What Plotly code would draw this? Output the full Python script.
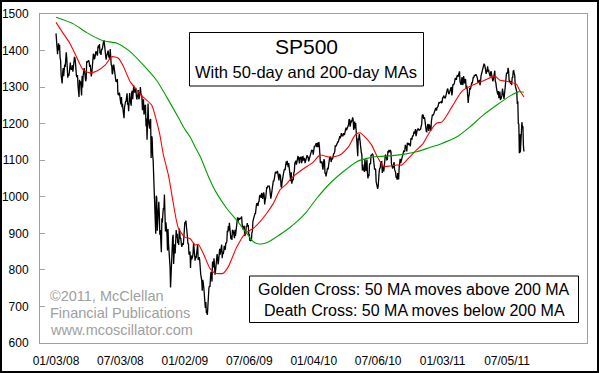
import plotly.graph_objects as go

# ---------------- data: S&P 500 daily closes (trading days from 01/03/08) ----------------
close_2008 = [
    1447,1412,1416,1390,1409,1420,1401,1416,1380,1373,1333,1325,1310,1338,1352,1330,1353,1362,1355,1378,
    1395,1380,1336,1326,1336,1331,1339,1348,1367,1348,1350,1348,1360,1342,1353,1371,1381,1380,1367,1331,
    1331,1327,1333,1304,1294,1273,1320,1308,1316,1289,1277,1330,1299,1330,1350,1352,1342,1325,1316,1323,
    1371,1368,1370,1371,1373,1366,1355,1361,1333,1329,1338,1365,1366,1391,1388,1376,1380,1389,1398,1396,1391,1386,
    1409,1414,1407,1418,1392,1398,1388,1404,1403,1408,1423,1425,1426,1413,1390,1394,1375,1385,1390,1398,1400,
    1385,1378,1377,1404,1361,1361,1358,1335,1339,1360,1360,1350,1338,1342,1317,1318,1314,1322,1283,1278,1280,
    1285,1262,1262,1253,1273,1245,1254,1239,1229,1215,1245,1260,1260,1261,1278,1283,1252,1257,1234,1264,1284,1267,
    1260,1249,1285,1290,1267,1296,1305,1289,1285,1293,1298,1278,1266,1275,1277,1292,1267,1271,1281,1300,1283,
    1277,1274,1237,1242,1267,1225,1232,1249,1252,1193,1214,1156,1206,1255,1207,1189,1186,1210,1213,1106,1166,
    1161,1114,1099,1056,996,985,910,899,1003,998,907,946,940,986,955,896,909,877,848,941,930,954,969,
    966,1006,953,905,930,920,898,853,912,873,851,860,807,752,800,852,858,888,896,
    816,848,870,845,876,909,888,899,873,879,868,913,904,885,887,871,863,869,873,869,890,903,
]
close_2009 = [
    931,927,935,907,910,890,871,872,842,844,850,805,840,828,832,836,845,874,845,826,
    825,838,832,845,869,870,827,833,835,826,789,788,779,770,743,773,764,752,735,
    700,696,712,682,683,677,720,721,750,756,753,778,795,785,768,823,806,813,832,816,787,798,
    811,834,843,835,815,825,856,858,842,852,866,869,832,850,843,851,866,857,855,873,873,
    877,907,903,920,907,929,909,908,884,893,882,909,908,903,888,887,910,893,906,919,
    942,944,931,942,940,939,942,939,944,946,923,911,910,918,921,893,895,900,920,918,928,919,
    923,896,898,881,880,882,879,901,906,933,941,940,951,954,954,976,979,982,979,975,986,987,
    1002,1005,1002,997,1010,1007,994,1005,1012,1005,979,990,996,1007,1026,1025,1029,1029,1031,1029,1021,
    998,995,1003,1016,1025,1034,1044,1042,1049,1053,1068,1066,1068,1064,1071,1061,1050,1045,1063,1060,1057,
    1029,1025,1040,1054,1057,1065,1072,1076,1073,1092,1096,1087,1098,1091,1081,1092,1079,1066,1063,1043,1067,1036,
    1042,1046,1047,1066,1069,1093,1094,1099,1088,1094,1110,1110,1109,1094,1091,1106,1105,1110,1092,1096,
    1109,1110,1099,1106,1104,1092,1096,1102,1106,1114,1108,1110,1097,1102,1114,1118,1120,1127,1128,1126,1126,1115,
]
close_2010 = [
    1133,1137,1137,1142,1145,1147,1136,1146,1148,1136,1150,1138,1116,1092,1097,1092,1097,1084,1074,
    1090,1103,1097,1063,1066,1056,1070,1068,1079,1075,1094,1100,1107,1109,1108,1095,1105,1103,1105,
    1115,1118,1119,1123,1139,1138,1140,1146,1150,1150,1150,1159,1166,1166,1160,1166,1174,1167,1166,1167,1173,1173,1169,
    1178,1187,1189,1182,1187,1194,1197,1197,1211,1212,1192,1197,1207,1206,1209,1217,1212,1183,1191,1206,1187,
    1202,1173,1166,1128,1111,1160,1156,1172,1158,1136,1136,1121,1116,1072,1088,1074,1074,1068,1103,1089,
    1070,1098,1102,1065,1050,1062,1056,1087,1092,1089,1115,1114,1116,1117,1114,1096,1092,1074,1077,1074,1041,1031,
    1028,1022,1029,1061,1070,1078,1079,1095,1095,1096,1065,1072,1083,1069,1094,1102,1115,1113,1106,1101,1102,
    1125,1121,1128,1126,1122,1128,1122,1090,1083,1079,1080,1093,1095,1075,1071,1067,1052,1055,1047,1065,1049,1049,
    1080,1090,1104,1092,1099,1104,1110,1121,1121,1125,1124,1125,1142,1139,1134,1124,1148,1142,1147,1145,1141,
    1146,1138,1160,1160,1158,1166,1166,1170,1178,1173,1177,1185,1166,1178,1181,1183,1186,1185,1182,1183,1183,
    1185,1193,1198,1221,1225,1223,1213,1218,1214,1199,1198,1179,1178,1197,1199,1197,1180,1198,1189,1188,1181,
    1206,1221,1225,1223,1224,1228,1234,1240,1241,1242,1236,1243,1244,1247,1254,1258,1257,1258,1259,1260,1257,1258,
]
close_2011 = [
    1272,1270,1277,1274,1271,1269,1274,1285,1283,1293,1296,1281,1281,1283,1291,1292,1297,1300,1277,1286,
    1308,1305,1308,1311,1320,1325,1321,1321,1329,1333,1328,1337,1340,1343,1315,1307,1306,1320,1327,
    1306,1309,1330,1321,1310,1322,1320,1295,1304,1296,1281,1257,1274,1279,1298,1293,1298,1309,1313,1310,1319,1328,1326,
    1332,1332,1332,1335,1333,1329,1324,1314,1315,1314,1320,1305,1312,1330,1337,1335,1347,1356,1360,1364,
    1361,1357,1348,1336,1340,1346,1357,1342,1348,1338,1330,1329,1341,1343,1333,1317,1316,1320,1326,1331,1345,
    1315,1313,1300,1286,1284,1280,1289,1271,1271,1288,1265,1268,1272,1278,1296,1287,1283,1268,1281,1297,1308,1321,
    1340,1337,1339,1353,1344,1319,1314,1317,1309,1316,1305,1327,1325,1344,1345,1337,1332,1304,1300,1292,
    1287,1254,1261,1200,1199,1119,1172,1121,1172,1179,1204,1192,1193,1140,1124,
]

# 50-day moving average, x = trading-day number
ma50_day = [0,14,27,40,53,66,80,96,109,122,132,145,158,171,187,197,203,210,220,229,
            239,252,262,272,278,288,301,311,327,337,353,370,386,399,412,425,438,451,461,481,
            503,516,536,555,572,585,594,604,617,628,640,653,666,676,689,705,718,731,744,755,
            775,794,817,837,858,868,880,900,907,915]
ma50_val = [1477,1447,1420,1383,1347,1339,1344,1360,1383,1379,1356,1315,1292,1272,1251,1205,1170,1115,1058,985,
            915,889,886,868,870,845,804,791,791,809,861,900,914,932,955,982,1019,1035,1052,1074,
            1095,1114,1108,1114,1137,1169,1175,1164,1142,1110,1084,1084,1087,1087,1105,1128,1146,1178,1201,1205,
            1248,1289,1307,1318,1330,1319,1316,1308,1290,1273]

# 200-day moving average
ma200_day = [0,34,60,92,119,145,171,197,216,242,251,262,271,282,301,314,334,353,373,386,
             396,412,432,451,471,490,510,536,562,588,608,627,653,679,705,731,751,784,810,836,
             862,888,904,915]
ma200_val = [1491,1473,1449,1427,1420,1397,1360,1318,1274,1210,1187,1164,1139,1110,1046,1010,968,936,900,877,
             871,874,891,909,932,959,996,1037,1069,1096,1105,1110,1112,1116,1123,1135,1144,1164,1192,1224,
             1251,1276,1287,1286]

tick_days = [0,126,252,378,504,630,756,882]
tick_text = ["01/03/08","07/03/08","01/02/09","07/06/09","01/04/10","07/06/10","01/03/11","07/05/11"]
y_ticks = [600,700,800,900,1000,1100,1200,1300,1400,1500]

closes = close_2008 + close_2009 + close_2010 + close_2011
days = list(range(len(closes)))

# ---------------- figure ----------------
W, H = 599, 373
L, R, T, B = 40, 12, 14, 30
PW, PH = W - L - R, H - T - B

def px(xp):
    return (xp - L) / PW

def py(yp):
    return (H - B - yp) / PH

FONT = "Liberation Sans, Arial, sans-serif"

fig = go.Figure()
fig.add_trace(go.Scatter(x=days, y=closes, mode="lines",
                         line=dict(color="black", width=1.3), hoverinfo="skip"))
fig.add_trace(go.Scatter(x=ma50_day, y=ma50_val, mode="lines",
                         line=dict(color="#ff0000", width=1.1, shape="spline", smoothing=0.6),
                         hoverinfo="skip"))
fig.add_trace(go.Scatter(x=ma200_day, y=ma200_val, mode="lines",
                         line=dict(color="#00a000", width=1.1, shape="spline", smoothing=0.6),
                         hoverinfo="skip"))

shapes = [
    # outer frame
    dict(type="rect", xref="paper", yref="paper",
         x0=px(1), x1=px(598), y0=py(372), y1=py(1),
         line=dict(color="black", width=2), fillcolor="rgba(0,0,0,0)", layer="above"),
    # title box
    dict(type="rect", xref="paper", yref="paper",
         x0=px(189.5), x1=px(423.5), y0=py(86), y1=py(32.5),
         line=dict(color="black", width=1), fillcolor="white", layer="above"),
    # golden / death cross box
    dict(type="rect", xref="paper", yref="paper",
         x0=px(249.5), x1=px(578.5), y0=py(322.5), y1=py(276),
         line=dict(color="black", width=1), fillcolor="white", layer="above"),
]

ann = []
def text(s, xp, yp, size, color="black", xanchor="center"):
    ann.append(dict(text=s, xref="paper", yref="paper", x=px(xp), y=py(yp),
                    xanchor=xanchor, yanchor="middle", showarrow=False,
                    font=dict(family=FONT, size=size, color=color)))

text("SP500", 306, 47, 21)
text("With 50-day and 200-day MAs", 306, 72, 16.5)
text("Golden Cross: 50 MA moves above 200 MA", 414, 289, 16)
text("Death Cross: 50 MA moves below 200 MA", 414, 310, 16)
text("©2011, McClellan", 48, 296, 14.5, "#a0a0a0", "left")
text("Financial Publications", 48, 313, 14.5, "#a0a0a0", "left")
text("www.mcoscillator.com", 48, 330, 14.5, "#a0a0a0", "left")

fig.update_layout(
    width=W, height=H,
    margin=dict(l=L, r=R, t=T, b=B, pad=0, autoexpand=False),
    paper_bgcolor="white", plot_bgcolor="white",
    showlegend=False,
    shapes=shapes, annotations=ann,
    font=dict(family=FONT, color="black"),
)
fig.update_xaxes(range=[-31.3, 1038.3], tickmode="array", tickvals=tick_days, ticktext=tick_text,
                 showgrid=False, zeroline=False, ticks="", showline=True, mirror=True,
                 linecolor="#a0a0a0", linewidth=1, tickfont=dict(family=FONT, size=12, color="black"),
                 ticklabelstandoff=7, automargin=False)
fig.update_yaxes(range=[600, 1500], tickmode="array", tickvals=y_ticks,
                 showgrid=False, zeroline=False, ticks="inside", ticklen=5, tickcolor="#a0a0a0",
                 showline=True, mirror=True, linecolor="#a0a0a0", linewidth=1,
                 tickfont=dict(family=FONT, size=12, color="black"), ticklabelstandoff=8,
                 automargin=False)

fig.write_html(
    "out.html",
    config={"displayModeBar": False},
    post_script="document.body.style.margin='0';document.body.style.padding='0';"
                "document.documentElement.style.overflow='hidden';",
)
